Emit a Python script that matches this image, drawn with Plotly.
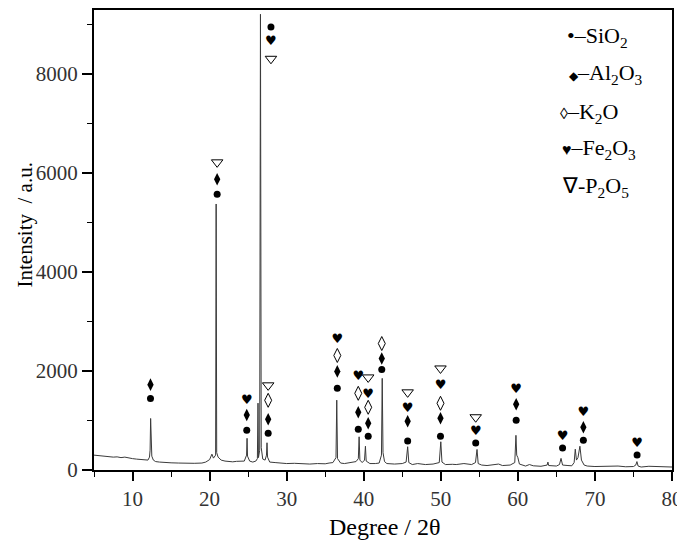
import plotly.graph_objects as go

SERIF = 'Liberation Serif, Times New Roman, Times, serif'

# XRD pattern (degree 2theta, intensity)
xrd_deg = [5.0, 5.5, 6.0, 6.5, 7.0, 7.5, 8.0, 8.5, 9.0, 9.5, 10.0, 10.5, 11.0, 11.5, 12.0,
           12.2, 12.28, 12.35, 12.42, 12.5, 12.7, 13.0, 13.5, 14.0, 15.0, 16.0, 17.0, 18.0,
           19.0, 19.5, 20.0, 20.3, 20.5, 20.78, 20.85, 20.92, 21.1, 21.5, 22.0, 22.5, 23.0,
           23.5, 24.0, 24.5, 24.8, 24.86, 24.92, 25.2, 25.6, 26.0, 26.2, 26.28, 26.34, 26.5,
           26.6, 26.7, 26.9, 27.2, 27.38, 27.45, 27.52, 27.8, 28.5, 29.0, 30.0, 31.0, 32.0,
           33.0, 34.0, 35.0, 35.5, 36.0, 36.4, 36.5, 36.6, 37.0, 37.5, 38.0, 38.5, 39.0,
           39.3, 39.4, 39.5, 39.8, 40.1, 40.22, 40.32, 40.8, 41.5, 42.0, 42.3, 42.4, 42.5,
           42.7, 43.0, 44.0, 45.0, 45.5, 45.7, 45.85, 46.3, 47.0, 48.0, 49.0, 49.8, 50.0,
           50.15, 50.6, 51.5, 52.0, 53.0, 54.0, 54.5, 54.7, 54.85, 55.3, 56.0, 57.0, 57.5,
           58.0, 59.0, 59.6, 59.75, 59.85, 60.0, 60.2, 61.0, 61.5, 62.0, 63.0, 63.8, 63.9,
           64.0, 65.0, 65.4, 65.6, 65.8, 66.5, 67.0, 67.3, 67.45, 67.6, 67.8, 68.05, 68.25,
           68.6, 69.0, 70.0, 71.0, 72.0, 73.0, 74.0, 75.0, 75.3, 75.45, 75.6, 76.0, 77.0,
           78.0, 79.0, 80.0]
xrd_int = [300, 290, 280, 285, 270, 260, 265, 250, 260, 240, 230, 220, 215, 200, 200,
           260, 400, 1040, 420, 280, 200, 170, 160, 150, 145, 140, 130, 135,
           140, 160, 210, 320, 240, 300, 5370, 350, 260, 200, 180, 170, 165,
           175, 170, 180, 300, 640, 280, 180, 160, 180, 230, 1350, 250, 400,
           9200, 450, 220, 200, 300, 550, 260, 160, 150, 140, 130, 135, 125,
           120, 130, 125, 140, 150, 250, 1410, 230, 140, 130, 140, 150, 170,
           230, 670, 200, 150, 200, 480, 180, 130, 130, 140, 300, 1850, 350,
           170, 130, 120, 130, 160, 470, 150, 110, 130, 110, 120, 150, 570,
           160, 110, 115, 110, 130, 110, 150, 415, 130, 100, 90, 100, 120,
           90, 100, 150, 700, 300, 250, 120, 80, 110, 85, 75, 100, 160,
           90, 80, 110, 235, 100, 90, 85, 150, 420, 200, 250, 480, 200,
           100, 80, 70, 75, 70, 80, 65, 70, 100, 170, 80, 60, 75,
           70, 60, 60]

# phase markers above the peaks
sio2_x = [12.33, 20.98, 24.82, 27.96, 27.6, 36.57, 39.29, 40.58, 42.34, 45.7, 49.96, 54.53, 59.78, 65.8, 68.5, 75.47]
sio2_y = [1441, 5568, 804, 8945, 744, 1648, 824, 683, 2030, 583, 683, 543, 1005, 442, 603, 302]

al2o3_x = [12.33, 20.98, 24.82, 27.6, 36.57, 39.29, 40.58, 42.34, 45.7, 49.96, 59.78, 68.5]
al2o3_y = [1723, 5869, 1111, 1025, 1990, 1166, 945, 2251, 985, 1045, 1327, 864]

k2o_x = [27.6, 36.57, 39.29, 40.58, 42.34, 49.96]
k2o_y = [1407, 2312, 1548, 1266, 2553, 1347]

fe2o3_x = [24.82, 27.96, 36.57, 39.29, 40.58, 45.7, 49.96, 54.53, 59.78, 65.8, 68.5, 75.47]
fe2o3_y = [1407, 8643, 2633, 1889, 1528, 1246, 1709, 764, 1628, 663, 1146, 523]

p2o5_x = [20.98, 27.96, 27.6, 40.58, 45.7, 49.96, 54.53]
p2o5_y = [6211, 8301, 1709, 1869, 1568, 2050, 1065]

legend_rows = [
    ('<span style="font-size:22px">•</span>–SiO<sub>2</sub>', 0.815, 0.942),
    ('<span style="font-size:12px">◆</span>–Al<sub>2</sub>O<sub>3</sub>', 0.819, 0.860),
    ('<span style="font-size:16px">◊</span>–K<sub>2</sub>O', 0.802, 0.776),
    ('<span style="font-size:16px">♥</span>–Fe<sub>2</sub>O<sub>3</sub>', 0.806, 0.697),
    ('∇-P<sub>2</sub>O<sub>5</sub>', 0.806, 0.616),
]

fig = go.Figure()
fig.add_trace(go.Scatter(x=xrd_deg, y=xrd_int, mode='lines',
                         line=dict(color='#3a3a3a', width=1), showlegend=False))
fig.add_trace(go.Scatter(x=sio2_x, y=sio2_y, mode='markers',
                         marker=dict(symbol='circle', size=7, color='black'), showlegend=False))
fig.add_trace(go.Scatter(x=al2o3_x, y=al2o3_y, mode='markers',
                         marker=dict(symbol='diamond-tall', size=9, color='black'), showlegend=False))
fig.add_trace(go.Scatter(x=k2o_x, y=k2o_y, mode='markers',
                         marker=dict(symbol='diamond-tall-open', size=10, color='black',
                                     line=dict(width=1)), showlegend=False))
fig.add_trace(go.Scatter(x=fe2o3_x, y=fe2o3_y, mode='text', text=['♥'] * len(fe2o3_x),
                         textfont=dict(family='DejaVu Sans', size=13, color='black'),
                         textposition='middle center', showlegend=False))
fig.add_trace(go.Scatter(x=p2o5_x, y=p2o5_y, mode='markers',
                         marker=dict(symbol='triangle-down-open', size=10, color='black',
                                     line=dict(width=1)), showlegend=False))

for txt, lx, ly in legend_rows:
    fig.add_annotation(text=txt, x=lx, y=ly, xref='paper', yref='paper',
                       xanchor='left', yanchor='middle', showarrow=False,
                       font=dict(family=SERIF, size=22, color='black'))

fig.add_annotation(text='Degree / 2θ', x=0.503, y=-0.123, xref='paper', yref='paper',
                   xanchor='center', yanchor='middle', showarrow=False,
                   font=dict(family=SERIF, size=24, color='black'))
fig.add_annotation(text='Intensity  / a.u.', x=-0.119, y=0.532, xref='paper', yref='paper',
                   xanchor='center', yanchor='middle', showarrow=False, textangle=-90,
                   font=dict(family=SERIF, size=21, color='black'))

fig.update_xaxes(range=[5, 80], tickvals=[10, 20, 30, 40, 50, 60, 70, 80],
                 ticks='outside', ticklen=9, tickwidth=1.5, tickcolor='black',
                 minor=dict(dtick=5, tick0=5, ticks='outside', ticklen=5, tickwidth=1.2, tickcolor='black'),
                 showline=True, linecolor='black', linewidth=2, mirror=True,
                 showgrid=False, zeroline=False,
                 tickfont=dict(family=SERIF, size=21, color='#333'))
fig.update_yaxes(range=[0, 9286], tickvals=[0, 2000, 4000, 6000, 8000],
                 ticks='outside', ticklen=10, tickwidth=1.5, tickcolor='black',
                 minor=dict(tickvals=[1000, 3000, 5000, 7000, 9000], ticks='outside',
                            ticklen=5, tickwidth=1.2, tickcolor='black'),
                 showline=True, linecolor='black', linewidth=2, mirror=True,
                 showgrid=False, zeroline=False,
                 tickfont=dict(family=SERIF, size=21, color='#333'))

# the page puts the plot 8px right/down, so the margins are trimmed by that much
fig.update_layout(width=685, height=544, margin=dict(l=86, r=21, t=0, b=82),
                  font=dict(family=SERIF),
                  plot_bgcolor='white', paper_bgcolor='white')

fig.write_html("out.html")
